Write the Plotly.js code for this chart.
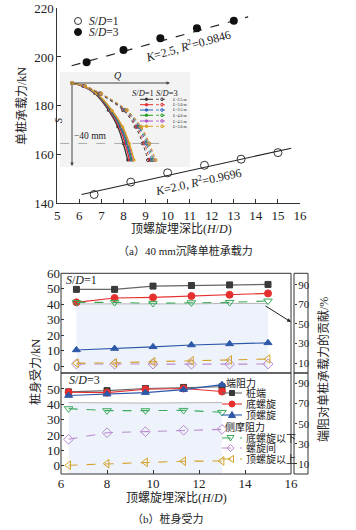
<!DOCTYPE html>
<html><head><meta charset="utf-8">
<script src="https://cdn.plot.ly/plotly-3.0.1.min.js"></script>
<style>html,body{margin:0;padding:0;background:#fff}</style>
</head><body><div id="chart" style="width:356px;height:530px"></div>
<script>
// ---------- (a) data ----------
const hdA1 = [6.67, 8.33, 10, 11.67, 13.33, 15];
const capA1 = [143.5, 148.6, 152.4, 155.5, 158.0, 160.7];
const hdA3 = [6.33, 8, 9.67, 11.33, 13];
const capA3 = [197.8, 202.9, 207.7, 211.8, 214.9];
const fitA1X = [6.1, 15.6];
const fitA1Y = [143.5, 162.5];
const fitA3X = [5.65, 13.65];
const fitA3Y = [196.4, 216.5];
const xTicksA = [5, 6, 7, 8, 9, 10, 11, 12, 13, 14, 15, 16];
const yTicksA = [140, 160, 180, 200, 220];

// ---------- inset Q-S curves ----------
const insetS = [0, -2, -7, -18, -29, -40, -51];
const insetL = ['L=2.5 m', 'L=3.0 m', 'L=3.5 m', 'L=4.0 m', 'L=4.5 m', 'L=5.0 m'];
const qSD1_L25 = [0, 30, 64, 102, 128, 143.5, 156];
const qSD1_L30 = [0, 31, 66, 105, 132, 148.6, 161];
const qSD1_L35 = [0, 32, 67, 107, 135, 152.4, 165];
const qSD1_L40 = [0, 33, 68, 109, 138, 155.5, 168];
const qSD1_L45 = [0, 33, 69, 111, 140, 158.0, 171];
const qSD1_L50 = [0, 34, 70, 112, 142, 160.7, 174];
const qSD3_L25 = [0, 34, 76, 143, 178, 197.8, 213];
const qSD3_L30 = [0, 35, 78, 146, 182, 202.9, 218];
const qSD3_L35 = [0, 35, 79, 148, 186, 207.7, 223];
const qSD3_L40 = [0, 36, 80, 150, 189, 211.8, 227];
const qSD3_L45 = [0, 36, 81, 152, 192, 214.9, 231];
const qSD3_L50 = [0, 37, 82, 154, 194, 217.0, 234];

// ---------- (b) data ----------
const hdB1 = [6.67, 8.33, 10, 11.67, 13.33, 15];
const tipB1 = [49.6, 49.6, 51.7, 52.1, 52.5, 52.8];
const botHelixB1 = [41.2, 44.0, 44.4, 45.3, 46.1, 47.0];
const topHelixB1 = [10.4, 11.3, 12.4, 13.6, 14.3, 15.0];
const belowBotB1 = [41.2, 41.2, 40.6, 41.0, 41.2, 42.1];
const betweenB1 = [1.3, 1.2, 1.2, 1.2, 1.2, 1.3];
const aboveTopB1 = [1.8, 2.0, 2.8, 3.4, 3.9, 4.5];
const pctB1 = [70.5, 70.5, 70.0, 70.5, 71.0, 71.0];

const hdB3 = [6.33, 8, 9.67, 11.33, 13];
const tipB3 = [48.1, 48.9, 50.3, 51.0, 51.4];
const botHelixB3 = [47.9, 47.6, 49.8, 50.3, 48.3];
const topHelixB3 = [45.7, 46.6, 47.6, 49.6, 52.8];
const belowBotB3 = [37.2, 35.9, 35.9, 36.1, 34.8];
const betweenB3 = [17.2, 21.5, 22.2, 23.1, 23.7];
const aboveTopB3 = [0.3, 1.3, 2.2, 2.9, 3.1];
const pctB3 = [71.0, 70.5, 70.5, 70.8, 71.0];

const seriesNames = ['桩端', '底螺旋', '顶螺旋', '底螺旋以下', '螺旋间', '顶螺旋以上'];
const xTicksB = [6, 8, 10, 12, 14, 16];
const yTicksB1 = [0, 10, 20, 30, 40, 50, 60];
const yTicksB3 = [0, 10, 20, 30, 40, 50];
const pctTicks = [10, 30, 50, 70, 90];

// ---------- helpers ----------
const W = 356, H = 530;
const px = x => x / W;
const py = y => 1 - y / H;
const FONT = 'Liberation Serif, "Noto Sans CJK SC", serif';
const TXT = '#222';

const C = {tip:'#3a3a3a', tipLine:'#666', red:'#e5302f', blue:'#2d58a8', green:'#3aaa5c', purple:'#b98ad0', orange:'#d4a22a'};
const Lcol = ['#333333', '#e52b2b', '#2b5fc1', '#20a020', '#b050c8', '#d9a21b'];

const traces = [];
// (a)
traces.push({x: fitA1X, y: fitA1Y, xaxis:'x', yaxis:'y', mode:'lines', line:{color:'#222', width:1.2}, hoverinfo:'skip'});
traces.push({x: fitA3X, y: fitA3Y, xaxis:'x', yaxis:'y', mode:'lines', line:{color:'#222', width:1.2, dash:'dash'}, hoverinfo:'skip'});
traces.push({x: hdA1, y: capA1, xaxis:'x', yaxis:'y', mode:'markers', name:'S/D=1',
  marker:{symbol:'circle-open', size:8, color:'#333', line:{width:1}}});
traces.push({x: hdA3, y: capA3, xaxis:'x', yaxis:'y', mode:'markers', name:'S/D=3',
  marker:{symbol:'circle', size:8, color:'#111'}});

// inset
const q1 = [qSD1_L25, qSD1_L30, qSD1_L35, qSD1_L40, qSD1_L45, qSD1_L50];
const q3 = [qSD3_L25, qSD3_L30, qSD3_L35, qSD3_L40, qSD3_L45, qSD3_L50];
q1.forEach((q, i) => traces.push({x: q, y: insetS, xaxis:'x4', yaxis:'y6', mode:'lines+markers',
  line:{color:Lcol[i], width:1.3, shape:'spline'}, marker:{size:3, color:Lcol[i]}, hoverinfo:'skip'}));
q3.forEach((q, i) => traces.push({x: q, y: insetS, xaxis:'x4', yaxis:'y6', mode:'lines+markers',
  line:{color:Lcol[i], width:1, dash:'dot', shape:'spline'}, marker:{size:3, symbol:'circle-open', color:Lcol[i]}, hoverinfo:'skip'}));

// (b) percent shading (base axes)
traces.push({x: hdB1, y: pctB1, xaxis:'x3', yaxis:'y4', mode:'lines', fill:'tozeroy',
  fillcolor:'#eef3fb', line:{color:'#b5b5b5', width:1}, hoverinfo:'skip'});
traces.push({x: hdB3, y: pctB3, xaxis:'x2', yaxis:'y5', mode:'lines', fill:'tozeroy',
  fillcolor:'#eef3fb', line:{color:'#b5b5b5', width:1}, hoverinfo:'skip'});

function addSet(xs, vals, xa, ya) {
  const st = [
    {lc:C.tipLine, dash:'solid', sym:'square', mc:C.tip, sz:6},
    {lc:C.red, dash:'solid', sym:'circle', mc:C.red, sz:7},
    {lc:C.blue, dash:'solid', sym:'triangle-up', mc:C.blue, sz:7},
    {lc:C.green, dash:'dash', sym:'triangle-down-open', mc:C.green, sz:7.5},
    {lc:C.purple, dash:'dash', sym:'diamond-open', mc:C.purple, sz:7.5},
    {lc:C.orange, dash:'dash', sym:'triangle-left-open', mc:C.orange, sz:7.5}
  ];
  vals.forEach((v, i) => traces.push({x: xs, y: v, xaxis: xa, yaxis: ya, mode:'lines+markers', name: seriesNames[i],
    line:{color: st[i].lc, width: 1.1, dash: st[i].dash},
    marker:{symbol: st[i].sym, size: st[i].sz, color: st[i].mc, line:{width:1, color: st[i].mc}}}));
}
addSet(hdB1, [tipB1, botHelixB1, topHelixB1, belowBotB1, betweenB1, aboveTopB1], 'x3', 'y2');
addSet(hdB3, [tipB3, botHelixB3, topHelixB3, belowBotB3, betweenB3, aboveTopB3], 'x2', 'y3');

// ---------- shapes ----------
const shapes = [];
const line = (x0,y0,x1,y1,color,width,dash) => ({type:'line', xref:'paper', yref:'paper', x0:px(x0), y0:py(y0), x1:px(x1), y1:py(y1), line:{color, width, dash: dash||'solid'}});
const rect = (x0,y0,x1,y1,lc,fc,layer) => ({type:'rect', xref:'paper', yref:'paper', x0:px(x0), y0:py(y1), x1:px(x1), y1:py(y0), line:{color:lc, width: lc ? 1 : 0}, fillcolor: fc || 'rgba(0,0,0,0)', layer: layer || 'above'});
const circ = (cx,cy,r,lc,fc) => ({type:'circle', xref:'paper', yref:'paper', x0:px(cx-r), x1:px(cx+r), y0:py(cy+r), y1:py(cy-r), line:{color:lc, width:1}, fillcolor: fc || 'rgba(0,0,0,0)'});
const poly = (pts, lc, fc) => ({type:'path', xref:'paper', yref:'paper', path:'M' + pts.map(p => px(p[0]).toFixed(5) + ',' + py(p[1]).toFixed(5)).join('L') + 'Z', line:{color:lc, width:1}, fillcolor: fc || 'rgba(0,0,0,0)'});

// inset background
shapes.push(rect(60, 72, 190, 167, null, '#f3f3f3', 'below'));
shapes.push({type:'line', xref:'x4', yref:'y6', x0:-33, x1:247, y0:-40, y1:-40, line:{color:'#999', width:0.8, dash:'dash'}});
// inset legend
const rowsY = [99.3, 104.7, 110, 115.3, 121, 126.3];
rowsY.forEach((y, i) => {
  shapes.push(line(140, y, 153, y, Lcol[i], 1));
  shapes.push(circ(146.5, y, 1.2, Lcol[i], Lcol[i]));
  shapes.push(line(156, y, 168, y, Lcol[i], 0.8, 'dot'));
  shapes.push(circ(162, y, 1.3, Lcol[i]));
});
// (a) legend markers
shapes.push(circ(78, 21, 3.5, '#333'));
shapes.push(circ(78, 32, 3.5, '#111', '#111'));

// (b) panel boxes
shapes.push(rect(61, 273.3, 291, 373, '#333'));
shapes.push(rect(61, 373, 291, 474, '#333'));
shapes.push(rect(294, 273.3, 308, 373, '#333'));
shapes.push(rect(294, 373, 308, 474, '#333'));

// (b) legend samples
const LX = 222;
const lg = [
  {y:393, lc:C.tipLine, dash:'solid'},
  {y:404, lc:C.red, dash:'solid'},
  {y:415, lc:C.blue, dash:'solid'},
  {y:438, lc:C.green, dash:'dash'},
  {y:448, lc:C.purple, dash:'dash'},
  {y:459, lc:C.orange, dash:'dash'}
];
lg.forEach(s => shapes.push(line(LX, s.y, LX + 20, s.y, s.lc, 1.1, s.dash)));
const mx = LX + 10;
shapes.push(rect(mx - 2.5, 390.5, mx + 2.5, 395.5, C.tip, C.tip));
shapes.push(circ(mx, 404, 3, C.red, C.red));
shapes.push(poly([[mx, 411.5], [mx + 3.5, 417.5], [mx - 3.5, 417.5]], C.blue, C.blue));
shapes.push(poly([[mx - 5, 435.5], [mx + 2, 435.5], [mx - 1.5, 441]], C.green));
shapes.push(poly([[mx - 1.5, 444.5], [mx + 2, 448], [mx - 1.5, 451.5], [mx - 5, 448]], C.purple));
shapes.push(poly([[mx - 4, 459], [mx + 1.5, 455.5], [mx + 1.5, 462.5]], C.orange));

// ---------- annotations ----------
const ann = [];
const T = (text, x, y, o) => Object.assign({text, xref:'paper', yref:'paper', x:px(x), y:py(y), showarrow:false,
  xanchor:'center', yanchor:'middle', font:{family:FONT, size:12, color:TXT}}, o || {});
// (a)
ann.push(T('单桩承载力/kN', 22, 106, {textangle:-90}));
ann.push(T('顶螺旋埋深比(<i>H</i>/<i>D</i>)', 181, 229));
ann.push(T('（a）40 mm沉降单桩承载力', 185, 250, {font:{family:FONT, size:11, color:TXT}}));
ann.push(T('<i>S</i>/<i>D</i>=1', 87, 21, {xanchor:'left', font:{family:FONT, size:11.5, color:TXT}}));
ann.push(T('<i>S</i>/<i>D</i>=3', 87, 32, {xanchor:'left', font:{family:FONT, size:11.5, color:TXT}}));
ann.push(T('<i>K</i>=2.5, <i>R</i><sup>2</sup>=0.9846', 188, 46, {textangle:-15.5}));
ann.push(T('<i>K</i>=2.0, <i>R</i><sup>2</sup>=0.9696', 198, 181, {textangle:-12.4}));
// inset
ann.push(T('<i>Q</i>', 118, 76, {font:{family:FONT, size:10, color:TXT}}));
ann.push(T('<i>S</i>', 59, 120, {textangle:-90, font:{family:FONT, size:10, color:TXT}}));
ann.push(T('−40 mm', 90, 136, {font:{family:FONT, size:9.5, color:TXT}}));
ann.push(T('<i>S</i>/<i>D</i>=1 <i>S</i>/<i>D</i>=3', 155, 93, {font:{family:FONT, size:8.5, color:TXT}}));
insetL.forEach((t, i) => ann.push(T('<i>L</i>' + t.slice(1), 169.5, rowsY[i], {xanchor:'left', font:{family:FONT, size:4, color:TXT}})));
// inset arrows
ann.push({xref:'paper', yref:'paper', x:px(170), y:py(83), ax:-98, ay:0, text:'', showarrow:true, arrowhead:2, arrowsize:0.7, arrowwidth:1, arrowcolor:'#444'});
ann.push({xref:'paper', yref:'paper', x:px(72), y:py(166), ax:0, ay:-83, text:'', showarrow:true, arrowhead:2, arrowsize:0.7, arrowwidth:1, arrowcolor:'#444'});
// (b)
ann.push(T('<i>S</i>/<i>D</i>=1', 64, 280, {xanchor:'left'}));
ann.push(T('<i>S</i>/<i>D</i>=3', 67, 380, {xanchor:'left'}));
ann.push(T('桩身受力/kN', 35, 372, {textangle:-90}));
ann.push(T('端阻对单桩承载力的贡献/%', 323, 370, {textangle:-90}));
ann.push(T('顶螺旋埋深比(<i>H</i>/<i>D</i>)', 176, 498));
ann.push(T('（b）桩身受力', 168, 518, {font:{family:FONT, size:11, color:TXT}}));
const LF = {family:FONT, size:10, color:TXT};
ann.push(T('端阻力', LX + 2, 383, {xanchor:'left', font:LF}));
ann.push(T('侧摩阻力', LX + 1, 427, {xanchor:'left', font:LF}));
[[393, 0], [404, 1], [415, 2], [438, 3], [448, 4], [459, 5]].forEach(([y, i]) =>
  ann.push(T(seriesNames[i], LX + 21.5, y, {xanchor:'left', font:LF})));
ann.push({xref:'paper', yref:'paper', x:px(291), y:py(322), ax:-27, ay:-17, text:'', showarrow:true, arrowhead:2, arrowsize:0.8, arrowwidth:1, arrowcolor:'#222'});

const tickFont = {family:FONT, size:13, color:TXT};
const pctFont = {family:FONT, size:11, color:TXT};
const layout = {
  width: W, height: H, margin:{l:0, r:0, t:0, b:0}, showlegend:false,
  paper_bgcolor:'#fff', plot_bgcolor:'rgba(0,0,0,0)',
  font:{family:FONT, color:TXT},
  xaxis:{domain:[px(57.3), px(300)], range:[5, 16], anchor:'y', tickvals:xTicksA, ticks:'inside', ticklen:4, tickcolor:'#333',
    showline:true, linecolor:'#333', linewidth:1, showgrid:false, zeroline:false, tickfont:tickFont},
  yaxis:{domain:[py(203), py(8.3)], range:[140, 220], anchor:'x', tickvals:yTicksA, ticks:'inside', ticklen:4, tickcolor:'#333',
    showline:true, linecolor:'#333', linewidth:1, showgrid:false, zeroline:false, tickfont:tickFont},
  xaxis4:{domain:[px(60), px(190)], range:[-33.6, 330.4], anchor:'y6', visible:false, fixedrange:true},
  yaxis6:{domain:[py(167), py(72)], range:[-55.6, 7.3], anchor:'x4', visible:false, fixedrange:true},
  // (b) top panel
  xaxis3:{domain:[px(61), px(291)], range:[6, 16], anchor:'y4', visible:false},
  yaxis4:{domain:[py(373), py(273.3)], range:[0, 101.7], side:'right', anchor:'free', position:px(294),
    tickvals:pctTicks, ticks:'outside', ticklen:2, tickcolor:'#333', showline:false, showgrid:false, zeroline:false,
    ticklabelstandoff:-1, tickfont:pctFont},
  yaxis2:{overlaying:'y4', anchor:'x3', side:'left', range:[-4.53, 60], tickvals:yTicksB1, ticks:'inside', ticklen:3, tickcolor:'#333',
    showline:false, showgrid:false, zeroline:false, tickfont:tickFont},
  // (b) bottom panel
  xaxis2:{domain:[px(61), px(291)], range:[6, 16], anchor:'y5', tickvals:xTicksB, ticks:'inside', ticklen:4, tickcolor:'#333',
    showline:false, showgrid:false, zeroline:false, tickfont:tickFont},
  yaxis5:{domain:[py(474), py(373)], range:[0, 100.4], side:'right', anchor:'free', position:px(294),
    tickvals:pctTicks, ticks:'outside', ticklen:2, tickcolor:'#333', showline:false, showgrid:false, zeroline:false,
    ticklabelstandoff:-1, tickfont:pctFont},
  yaxis3:{overlaying:'y5', anchor:'x2', side:'left', range:[-5.4, 60.4], tickvals:yTicksB3, ticks:'inside', ticklen:3, tickcolor:'#333',
    showline:false, showgrid:false, zeroline:false, tickfont:tickFont},
  shapes, annotations: ann
};
Plotly.newPlot('chart', traces, layout, {displayModeBar:false, staticPlot:true});
</script></body></html>
